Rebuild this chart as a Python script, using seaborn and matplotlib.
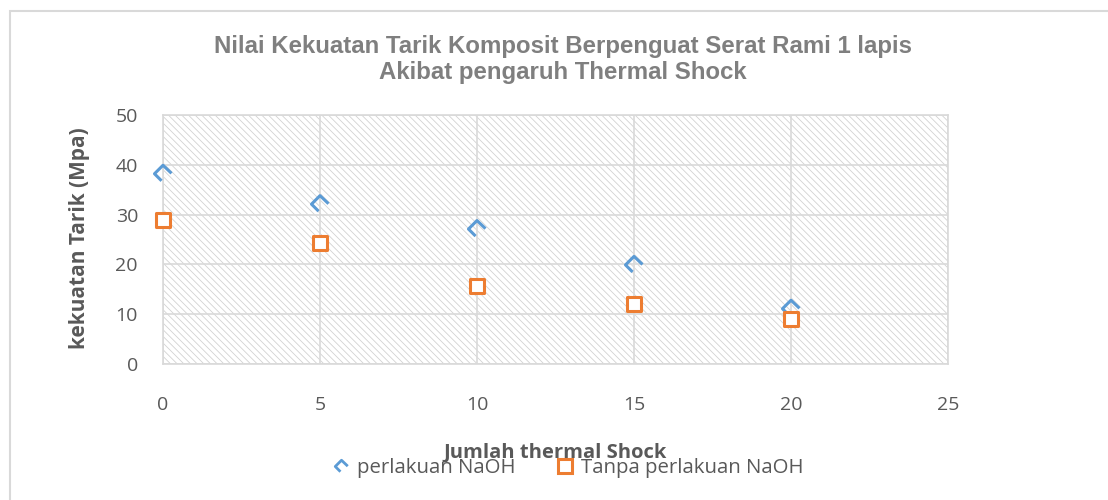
import matplotlib.pyplot as plt
import seaborn as sns
import numpy as np
import pandas as pd
from matplotlib.path import Path
from matplotlib.patches import Rectangle
from matplotlib.lines import Line2D

# data
thermal_shock = [0, 5, 10, 15, 20]
naoh = [38.2, 32.1, 27.1, 19.9, 11.1]
tanpa_naoh = [28.9, 24.2, 15.7, 12.1, 9.1]
x_ticks = [0, 5, 10, 15, 20, 25]
y_ticks = [0, 10, 20, 30, 40, 50]

df = pd.DataFrame({'x': thermal_shock, 'naoh': naoh, 'tanpa': tanpa_naoh})

sns.set_style('white')
plt.rcParams['font.family'] = ['Open Sans', 'DejaVu Sans']
plt.rcParams['hatch.linewidth'] = 0.6

blue = '#5B9BD5'
orange = '#ED7D31'
grid_c = '#d9d9d9'
text_c = '#595959'

# open chevron marker (diamond drawn without its lower-right edge)
chevron = Path([(-0.17, -0.83), (-1, 0), (0, 1), (1, 0.05)],
               [Path.MOVETO, Path.LINETO, Path.LINETO, Path.LINETO])

fig = plt.figure(figsize=(11.08, 5), dpi=100)
ax = fig.add_axes([163 / 1108, 1 - 364 / 500, (948 - 163) / 1108, (364 - 115) / 500])

# chart border (only left and top edges fall inside the image)
fig.patches.append(Rectangle((10 / 1108, -1), 3, 2 - 11 / 500, transform=fig.transFigure,
                             fill=False, edgecolor='#d9d9d9', linewidth=1.5, zorder=0))

# hatched plot area
ax.add_patch(Rectangle((0, 0), 1, 1, transform=ax.transAxes, facecolor='white',
                       edgecolor='#d2d2d2', hatch='\\\\\\\\\\', linewidth=0, zorder=0))

sns.scatterplot(data=df, x='x', y='naoh', ax=ax, marker=chevron, s=150,
                facecolor='none', edgecolor=blue, linewidth=2.2, color=blue, zorder=3, clip_on=False)
sns.scatterplot(data=df, x='x', y='tanpa', ax=ax, marker='s', s=115,
                facecolor='white', edgecolor=orange, linewidth=2.2, zorder=4, clip_on=False)

ax.set_xlim(0, 25)
ax.set_ylim(0, 50)
ax.set_xticks(x_ticks)
ax.set_yticks(y_ticks)
ax.grid(True, color=grid_c, linewidth=1.2)
ax.set_axisbelow(True)
for s in ax.spines.values():
    s.set_color(grid_c)
    s.set_linewidth(1.2)
ax.tick_params(axis='both', length=0, labelsize=14, labelcolor=text_c)
ax.tick_params(axis='y', pad=18)
ax.tick_params(axis='x', pad=23)
ax.set_xlabel('')
ax.set_ylabel('')

fig.text(563 / 1108, 1 - 47 / 500, 'Nilai Kekuatan Tarik Komposit Berpenguat Serat Rami 1 lapis',
         ha='center', va='center', fontsize=17.3, fontweight='bold', color='#7f7f7f',
         family='Liberation Sans')
fig.text(563 / 1108, 1 - 73 / 500, 'Akibat pengaruh Thermal Shock',
         ha='center', va='center', fontsize=17.3, fontweight='bold', color='#7f7f7f',
         family='Liberation Sans')
fig.text(80 / 1108, 1 - 238 / 500, 'kekuatan Tarik (Mpa)', rotation=90, ha='center', va='center',
         fontsize=15, fontweight='bold', color=text_c)
fig.text(555 / 1108, 1 - 452 / 500, 'Jumlah thermal Shock', ha='center', va='center',
         fontsize=14.5, fontweight='bold', color=text_c)

handles = [Line2D([], [], linestyle='none', marker=chevron, markersize=9, markerfacecolor='none',
                  markeredgecolor=blue, markeredgewidth=2),
           Line2D([], [], linestyle='none', marker='s', markersize=10, markerfacecolor='white',
                  markeredgecolor=orange, markeredgewidth=2.2)]
fig.legend(handles, ['perlakuan NaOH', 'Tanpa perlakuan NaOH'], loc='center',
           bbox_to_anchor=(568 / 1108, 1 - 468 / 500), ncol=2, frameon=False, fontsize=14.7,
           labelcolor=text_c, handlelength=0.8, handletextpad=0.4, columnspacing=2.0,
           borderpad=0)

fig.savefig('out.png', dpi=100)
